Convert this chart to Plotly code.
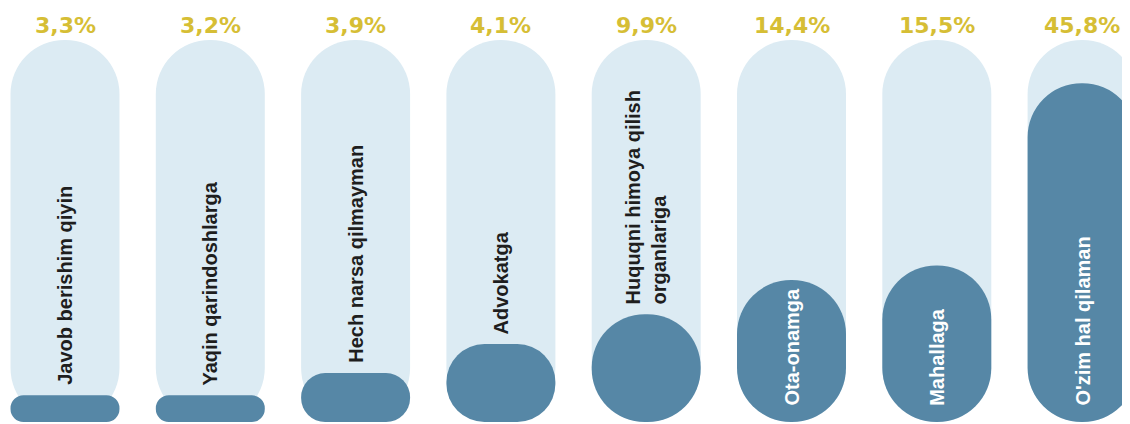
import plotly.graph_objects as go

# ---------------- data ----------------
categories = [
    "Javob berishim qiyin",
    "Yaqin qarindoshlarga",
    "Hech narsa qilmayman",
    "Advokatga",
    "Huquqni himoya qilish<br>organlariga",
    "Ota-onamga",
    "Mahallaga",
    "O'zim hal qilaman",
]
shares = [3.3, 3.2, 3.9, 4.1, 9.9, 14.4, 15.5, 45.8]
share_labels = ["3,3%", "3,2%", "3,9%", "4,1%", "9,9%", "14,4%", "15,5%", "45,8%"]
# height of the dark capsule, as % of the light track (as drawn in the picture)
fill_levels = [7.0, 7.0, 12.8, 20.4, 28.2, 37.2, 41.0, 88.7]
track_level = 100.0

# ---------------- styling / layout constants ----------------
# the page body has an 8px margin, so the figure is drawn 8px in from the window edge
W, H = 1122, 416
TRACK_BOTTOM_PX, TRACK_TOP_PX = 414, 32
PPU = (TRACK_BOTTOM_PX - TRACK_TOP_PX) / track_level      # pixels per y unit
SLOT_PX, FIRST_CENTER_PX = 145.3, 57                      # horizontal slot geometry
BAR_W = 0.75
BAR_W_PX = BAR_W * SLOT_PX
PCT_CENTER_PX = 17.5

LIGHT = "#DCEBF3"
DARK = "#5687A6"
GOLD = "#D6BE35"
INK = "#1E1E1E"

y_range = [-(H - TRACK_BOTTOM_PX) / PPU, track_level + TRACK_TOP_PX / PPU]
x_range = [-FIRST_CENTER_PX / SLOT_PX, (W - FIRST_CENTER_PX) / SLOT_PX]

xs = list(range(len(categories)))

fig = go.Figure()

# light tracks (floating bars with a base get all four corners rounded)
fig.add_trace(go.Bar(
    x=xs, y=[track_level] * len(xs), base=[0.0] * len(xs), width=BAR_W,
    marker=dict(color=LIGHT, line=dict(width=0), cornerradius="50%"),
    hoverinfo="skip", showlegend=False,
))

# dark fills, one trace each so each gets its own corner radius
for i, lvl in enumerate(fill_levels):
    r = min(BAR_W_PX / 2, lvl * PPU / 2)
    fig.add_trace(go.Bar(
        x=[i], y=[lvl], base=[0.0], width=BAR_W,
        marker=dict(color=DARK, line=dict(width=0), cornerradius=r),
        hoverinfo="skip", showlegend=False,
    ))

annotations = []
for i, lab in enumerate(share_labels):
    annotations.append(dict(
        x=i, y=track_level + (TRACK_TOP_PX - PCT_CENTER_PX) / PPU, text=lab, showarrow=False,
        xanchor="center", yanchor="middle",
        font=dict(family="DejaVu Sans", size=22, color=GOLD, weight="bold"),
    ))

for i, (cat, lvl) in enumerate(zip(categories, fill_levels)):
    inside = lvl > 35
    y = 14 / PPU if inside else lvl + 8 / PPU
    annotations.append(dict(
        x=i, y=y, text=cat, showarrow=False, textangle=-90,
        xanchor="center", yanchor="bottom", align="left",
        font=dict(family="Liberation Sans", size=20, color="white" if inside else INK,
                  weight="bold"),
    ))

fig.update_layout(
    width=W, height=H,
    margin=dict(l=0, r=0, t=0, b=0),
    paper_bgcolor="white", plot_bgcolor="white",
    barmode="overlay",
    xaxis=dict(range=x_range, visible=False, fixedrange=True),
    yaxis=dict(range=y_range, visible=False, fixedrange=True),
    annotations=annotations,
    showlegend=False,
)

fig.write_html("out.html")
